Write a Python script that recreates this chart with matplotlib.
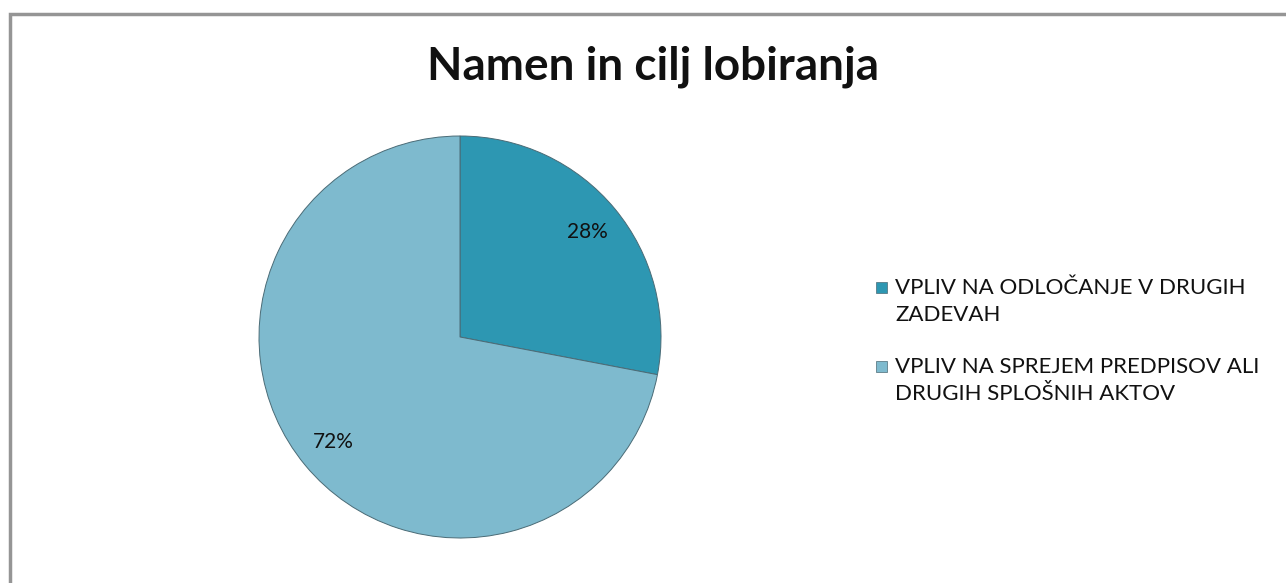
import matplotlib
matplotlib.use('Agg')
import matplotlib.pyplot as plt
from matplotlib.patches import Rectangle

plt.rcParams['font.family'] = ['Lato', 'DejaVu Sans']

# data
title = 'Namen in cilj lobiranja'
categories = ['VPLIV NA ODLOČANJE V DRUGIH\nZADEVAH',
              'VPLIV NA SPREJEM PREDPISOV ALI\nDRUGIH SPLOŠNIH AKTOV']
shares = [28, 72]
colors = ['#2D97B2', '#7EBACE']

W, H = 1286, 583
fig = plt.figure(figsize=(W / 100, H / 100), dpi=100)

# grey chart frame (cut off at the right and bottom edges)
fig.patches.append(Rectangle((10 / W, -0.05), 1.2, 1 - 14 / H + 0.05,
                             transform=fig.transFigure, fill=False,
                             edgecolor='#959595', linewidth=2.5))

ax = fig.add_axes([259 / W, 45 / H, 402 / W, 402 / H])
wedges, texts, autotexts = ax.pie(
    shares, colors=colors, startangle=90, counterclock=False,
    autopct='%d%%', pctdistance=0.82,
    wedgeprops=dict(edgecolor='#4a6b76', linewidth=0.7),
    textprops=dict(fontsize=15, color='#111111'))
ax.set_xlim(-1, 1)
ax.set_ylim(-1, 1)
ax.set_aspect('equal')
ax.axis('off')

fig.text(653 / W, 1 - 67 / H, title, ha='center', va='center',
         fontsize=33, fontweight='bold', color='#111111')

# legend drawn by hand so the marker sits on the first line of each entry
first_line_y = [287, 366]
for cat, c, y in zip(categories, colors, first_line_y):
    fig.patches.append(Rectangle((876 / W, 1 - (y + 6) / H), 11 / W, 11 / H,
                                 transform=fig.transFigure, facecolor=c,
                                 edgecolor='#4a6a75', linewidth=0.5))
    fig.text(895 / W, 1 - (y - 9) / H, cat, ha='left', va='top',
             fontsize=16, linespacing=1.45, color='#111111')

fig.savefig('out.png', dpi=100)
